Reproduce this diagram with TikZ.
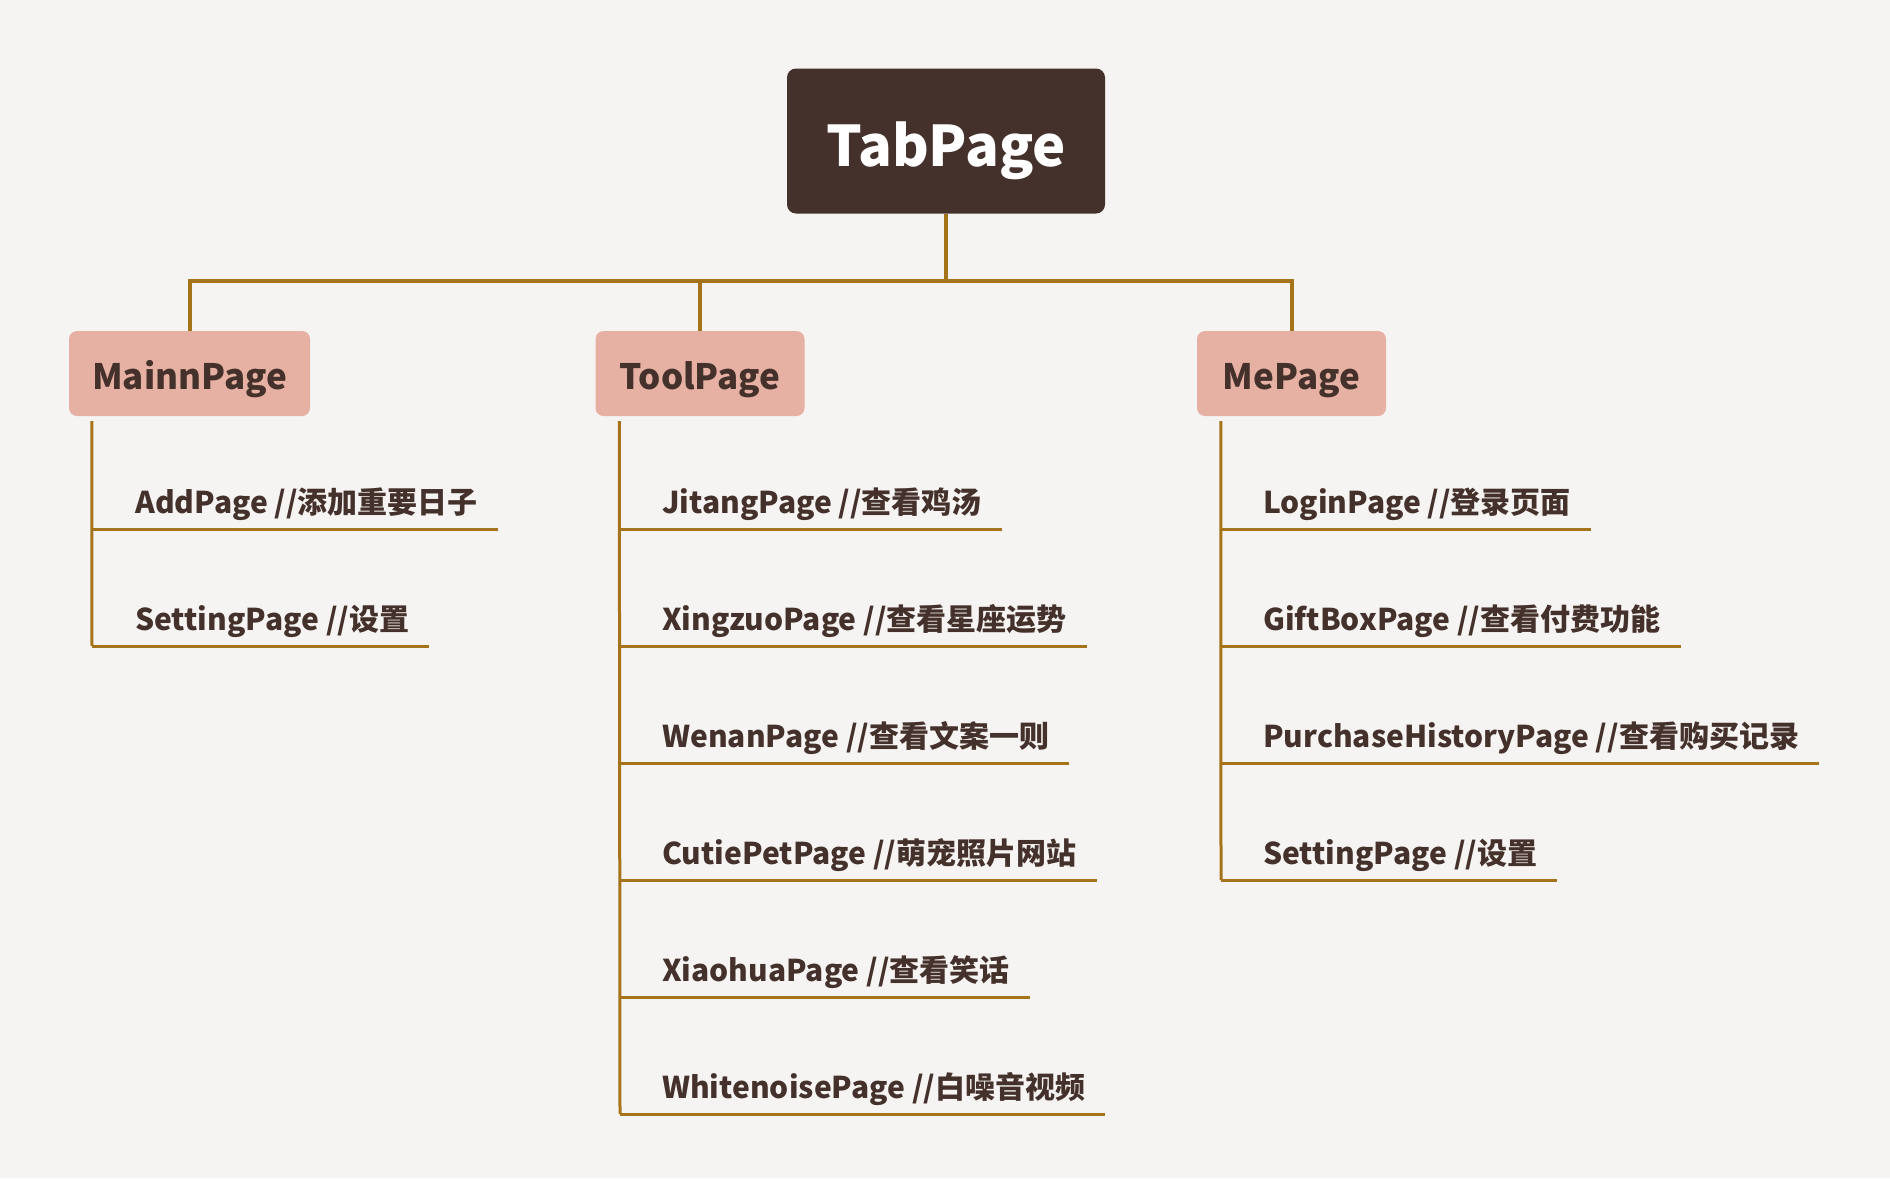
\documentclass[tikz,border=0pt]{standalone}
\usepackage{fontspec}
\setmainfont{Noto Sans CJK SC}
\usetikzlibrary{calc}
\definecolor{bg}{HTML}{F6F4F2}
\definecolor{ink}{HTML}{45312B}
\definecolor{gold}{HTML}{A4731A}
\definecolor{pinkfill}{HTML}{E6B1A3}
\begin{document}
\begin{tikzpicture}[x=1pt,y=-1pt,
  rootbox/.style={fill=ink, text=white, rounded corners=9pt, minimum width=318pt, minimum height=145pt, inner sep=0pt, text height=50pt, text depth=0pt, font=\fontsize{56}{66}\selectfont\bfseries},
  catbox/.style={fill=pinkfill, text=ink, rounded corners=8pt, minimum height=85pt, inner sep=0pt, text height=31pt, text depth=0pt, font=\fontsize{35}{42}\selectfont\bfseries},
  leaf/.style={anchor=base west, text=ink, inner sep=0pt, font=\fontsize{30}{36}\selectfont\bfseries},
  trunk/.style={draw=gold, line width=4pt},
  branch/.style={draw=gold, line width=3pt},
]
\fill[bg] (0,0) rectangle (1890,1178);
\useasboundingbox (0,0) rectangle (1890,1178);

\node[rootbox] (tab) at (946,141) {TabPage};
\node[catbox, minimum width=241pt] (mainn) at (189.5,373.5) {MainnPage};
\node[catbox, minimum width=209pt] (tool) at (700,373.5) {ToolPage};
\node[catbox, minimum width=189pt] (me) at (1291.5,373.5) {MePage};

\draw[trunk] (tab.south) -- ++(0,67) coordinate (hub);
\draw[trunk] (hub) -| (mainn.north);
\draw[trunk] (hub) -| (tool.north);
\draw[trunk] (hub) -| (me.north);

% MainnPage children
\foreach \i/\txt in {1/{AddPage //添加重要日子},2/{SettingPage //设置}} {
  \coordinate (a\i) at (92,{529+117*(\i-1)});
  \node[leaf] (ta\i) at ($(a\i)+(43,-16)$) {\txt};
  \draw[branch] (a\i) -- (a\i -| ta\i.east) -- ++(20,0);
}
\draw[branch] ($(mainn.south west)+(23,5)$) -- (a2);

% ToolPage children
\foreach \i/\txt in {1/{JitangPage //查看鸡汤},2/{XingzuoPage //查看星座运势},3/{WenanPage //查看文案一则},4/{CutiePetPage //萌宠照片网站},5/{XiaohuaPage //查看笑话},6/{WhitenoisePage //白噪音视频}} {
  \coordinate (b\i) at (620,{529+117*(\i-1)});
  \node[leaf] (tb\i) at ($(b\i)+(42,-16)$) {\txt};
  \draw[branch] (b\i) -- (b\i -| tb\i.east) -- ++(20,0);
}
\draw[branch] ($(tool.south west)+(24,5)$) -- (b6);

% MePage children
\foreach \i/\txt in {1/{LoginPage //登录页面},2/{GiftBoxPage //查看付费功能},3/{PurchaseHistoryPage //查看购买记录},4/{SettingPage //设置}} {
  \coordinate (c\i) at (1221,{529+117*(\i-1)});
  \node[leaf] (tc\i) at ($(c\i)+(42,-16)$) {\txt};
  \draw[branch] (c\i) -- (c\i -| tc\i.east) -- ++(20,0);
}
\draw[branch] ($(me.south west)+(24,5)$) -- (c4);
\end{tikzpicture}
\end{document}
